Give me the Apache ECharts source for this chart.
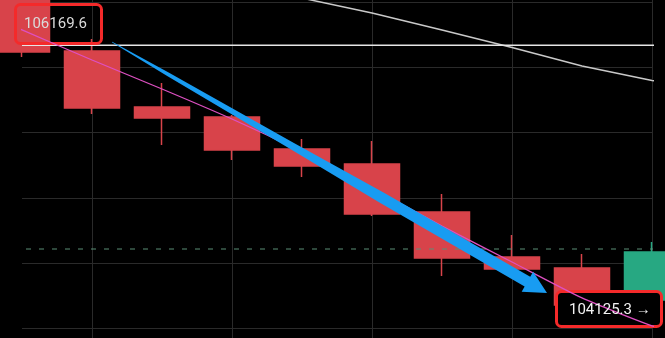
<!DOCTYPE html>
<html>
<head>
<meta charset="utf-8">
<script src="https://cdn.jsdelivr.net/npm/echarts@6/dist/echarts.min.js"></script>
<style>
html,body{margin:0;padding:0;background:#000;}
#chart{width:665px;height:338px;}
</style>
</head>
<body>
<div id="chart"></div>
<script>
// ---- data ----
const categories = ['00:00','01:00','02:00','03:00','04:00','05:00','06:00','07:00','08:00','09:00'];
const openPrices  = [106620, 106125, 105696, 105619, 105374, 105260, 104892, 104548, 104463, 104218];
const closePrices = [106117, 105688, 105612, 105367, 105244, 104877, 104540, 104456, 104180, 104586];
const lowPrices   = [106079, 105642, 105405, 105290, 105160, 104861, 104402, 104433, 104126, 104180];
const highPrices  = [106700, 106217, 105880, 105635, 105451, 105436, 105030, 104716, 104570, 104662];

const maIndex  = [3, 4, 5, 6, 7, 8, 9, 9.2];
const maValues = [106645, 106530, 106416, 106286, 106152, 106010, 105899, 105880];

const pinkIndex  = [-0.32, 0, 1, 2, 3, 4, 5, 6, 7, 8, 9, 9.2];
const pinkValues = [106357, 106286, 106056, 105834, 105604, 105352, 105076, 104785, 104509, 104234, 104020, 104000];

const rayLevel = 106169.6;
const rayRange = [0, 9.5];
const dashedLevel = 104608.7;
const dashedRange = [-0.5, 9.5];

const arrowFrom = [1.286, 106193.7];
const arrowTo   = [7.5, 104271.8];

const highLabel = '106169.6';
const lastLabel = '104125.3 →';

const yTicks = { min: 103500, max: 107000, step: 500 };

// ---- chart ----
const chart = echarts.init(document.getElementById('chart'), null, {renderer: 'canvas'});
const candleData = categories.map((c, i) => [openPrices[i], closePrices[i], lowPrices[i], highPrices[i]]);
const maData = maIndex.map((x, i) => [x, maValues[i]]);
const pinkData = pinkIndex.map((x, i) => [x, pinkValues[i]]);

const RED = '#d8434a', GREEN = '#27a882', BOX = '#f42a2a';

function arrowRender(params, api) {
  const p0 = api.coord([api.value(0), api.value(1)]);
  const p1 = api.coord([api.value(2), api.value(3)]);
  const dx = p1[0] - p0[0], dy = p1[1] - p0[1];
  const L = Math.sqrt(dx*dx + dy*dy);
  const ux = dx / L, uy = dy / L, nx = -uy, ny = ux;
  const prof = [[0, 0.4], [0.13, 1.9], [0.41, 3.5], [0.62, 5.4], [0.955, 5.6]];
  const headHW = 11.5;
  const pt = (t, w) => [p0[0] + ux*t*L + nx*w, p0[1] + uy*t*L + ny*w];
  const pts = [];
  prof.forEach(([t, w]) => pts.push(pt(t, -w)));
  const tb = prof[prof.length - 1][0];
  pts.push(pt(tb, -headHW));
  pts.push(pt(1, 0));
  pts.push(pt(tb, headHW));
  for (let k = prof.length - 1; k >= 0; k--) pts.push(pt(prof[k][0], prof[k][1]));
  return { type: 'polygon', shape: { points: pts }, style: { fill: '#189cf2' } };
}

const option = {
  backgroundColor: '#000000',
  animation: false,
  grid: { left: 22, right: 13, top: -63.3, bottom: -55.8, containLabel: false, outerBoundsMode: 'none' },
  xAxis: [
    {
      type: 'category', data: categories, boundaryGap: false,
      axisLine: { show: false }, axisTick: { show: false }, axisLabel: { show: false },
      splitLine: { show: true, interval: (idx) => idx % 2 === 1, lineStyle: { color: '#2a2a2a', width: 1 } }
    },
    { type: 'value', min: 0, max: 9, show: false }
  ],
  yAxis: {
    type: 'value', min: yTicks.min, max: yTicks.max, interval: yTicks.step,
    axisLine: { show: false }, axisTick: { show: false }, axisLabel: { show: false },
    splitLine: { show: true, lineStyle: { color: '#2a2a2a', width: 1 } }
  },
  series: [
    {
      type: 'candlestick', data: candleData, barWidth: 55, clip: false, z: 3,
      itemStyle: { color: GREEN, color0: RED, borderColor: GREEN, borderColor0: RED, borderWidth: 1.5 }
    },
    {
      type: 'line', xAxisIndex: 1, data: maData, symbol: 'none', clip: false, z: 4,
      lineStyle: { color: '#c9c9c9', width: 1.5 }
    },
    {
      type: 'line', xAxisIndex: 1, data: rayRange.map(x => [x, rayLevel]), symbol: 'none', clip: false, z: 4,
      lineStyle: { color: '#e6e6e6', width: 1.5 }
    },
    {
      type: 'line', xAxisIndex: 1, data: dashedRange.map(x => [x, dashedLevel]), symbol: 'none', clip: false, z: 4,
      lineStyle: { color: '#5b8f76', width: 1, type: [5, 8] }
    },
    {
      type: 'line', xAxisIndex: 1, data: pinkData, symbol: 'none', clip: false, z: 6, smooth: 0.2,
      lineStyle: { color: '#de50c2', width: 1.3 }
    },
    {
      type: 'custom', xAxisIndex: 1, renderItem: arrowRender, z: 7,
      encode: { x: [0, 2], y: [1, 3] },
      data: [[arrowFrom[0], arrowFrom[1], arrowTo[0], arrowTo[1]]]
    }
  ],
  graphic: [
    { type: 'rect', z: 5, shape: { x: 15.5, y: 4.5, width: 86, height: 39, r: 5 },
      style: { fill: 'transparent', stroke: BOX, lineWidth: 3 } },
    { type: 'text', z: 8, x: 24, y: 24,
      style: { text: highLabel, fill: '#dadada', font: '15px Roboto, sans-serif', verticalAlign: 'middle', textAlign: 'left' } },
    { type: 'rect', z: 5, shape: { x: 556.5, y: 291.5, width: 105, height: 35, r: 5 },
      style: { fill: '#000000', stroke: BOX, lineWidth: 3 } },
    { type: 'text', z: 8, x: 569, y: 310,
      style: { text: lastLabel, fill: '#f2f2f2', font: '15px Roboto, sans-serif', verticalAlign: 'middle', textAlign: 'left' } }
  ]
};
chart.setOption(option);
</script>
</body>
</html>
